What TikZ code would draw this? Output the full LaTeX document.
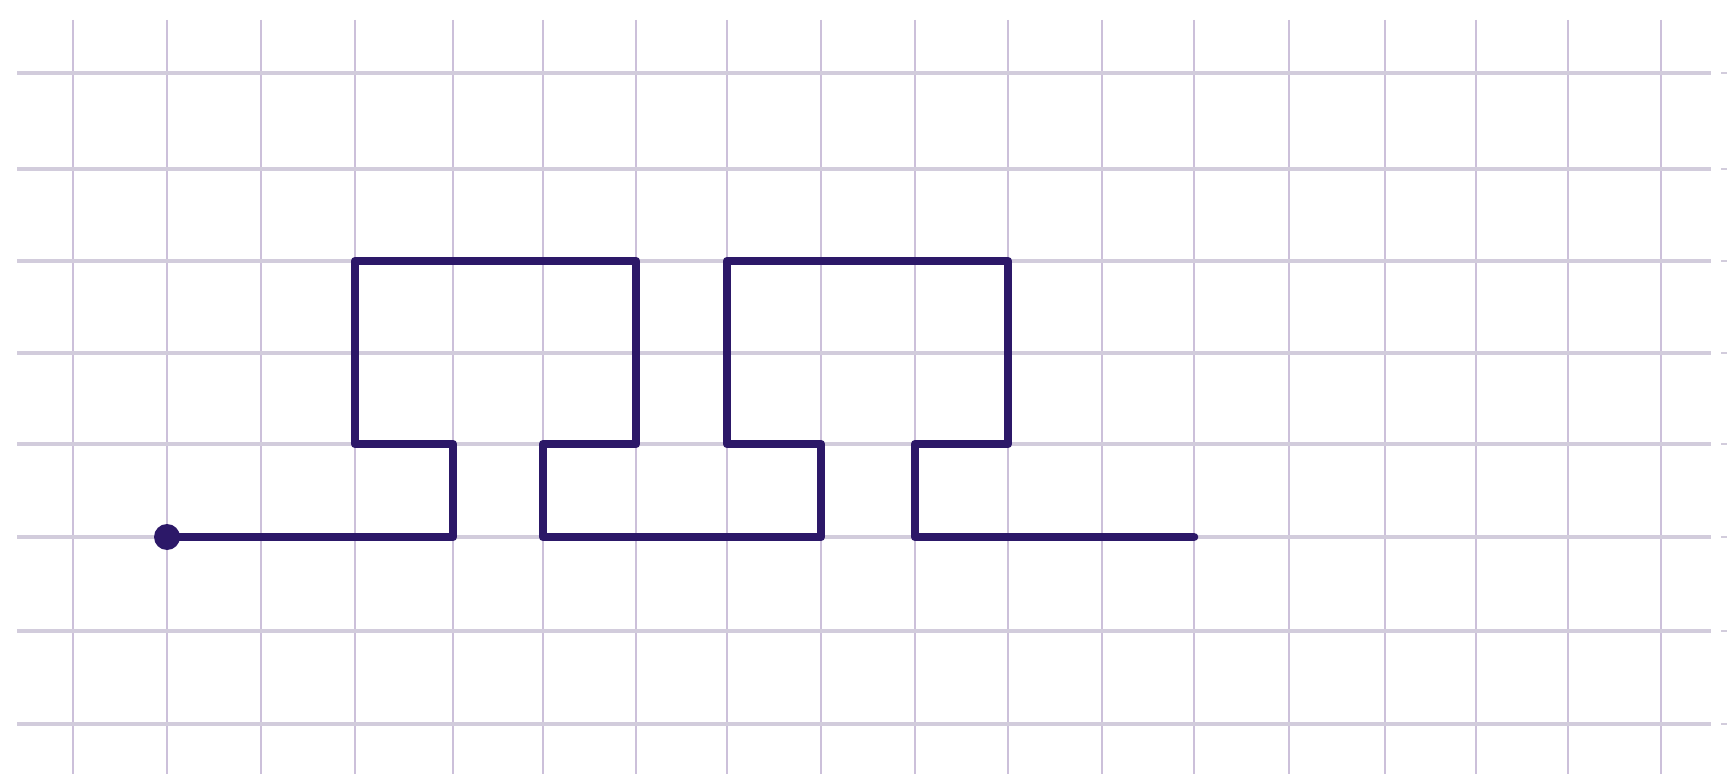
\documentclass[tikz,border=0pt]{standalone}
\begin{document}
\begin{tikzpicture}[x=0.5pt,y=-0.5pt,
  hline/.style={draw=hgrid,line width=2pt},
  vline/.style={draw=vgrid,line width=1.4pt},
  route/.style={draw=pathcol,line width=4.3pt,line join=round,line cap=round},
  tick/.style={draw=hgrid,line width=1.2pt}]
\definecolor{hgrid}{RGB}{210,204,220}
\definecolor{vgrid}{RGB}{204,192,218}
\definecolor{pathcol}{RGB}{44,24,104}
\useasboundingbox[fill=white] (0,0) rectangle (1733,780);
% vertical grid lines
\foreach \x in {73,167,261,355,453,543,636,727,821,915,1008,1102,1194,1289,1385,1476,1568,1661}
  \draw[vline] (\x,20) -- (\x,774);
% horizontal grid lines
\foreach \y in {73,169,261,353,444,537,631,724}{
  \draw[hline] (17,\y) -- (1711,\y);
  \draw[tick] (1721,\y) -- (1727,\y);
}
% path corners
\coordinate (p0) at (167,537);
\coordinate (p1) at (453,537);
\coordinate (p2) at (453,444);
\coordinate (p3) at (355,444);
\coordinate (p4) at (355,261);
\coordinate (p5) at (636,261);
\coordinate (p6) at (636,444);
\coordinate (p7) at (543,444);
\coordinate (p8) at (543,537);
\coordinate (p9) at (821,537);
\coordinate (p10) at (821,444);
\coordinate (p11) at (727,444);
\coordinate (p12) at (727,261);
\coordinate (p13) at (1008,261);
\coordinate (p14) at (1008,444);
\coordinate (p15) at (915,444);
\coordinate (p16) at (915,537);
\coordinate (p17) at (1194,537);
\draw[route] (p0) -- (p1) -- (p2) -- (p3) -- (p4) -- (p5) -- (p6) -- (p7) -- (p8)
  -- (p9) -- (p10) -- (p11) -- (p12) -- (p13) -- (p14) -- (p15) -- (p16) -- (p17);
\fill[pathcol] (p0) circle (13);
\end{tikzpicture}
\end{document}
